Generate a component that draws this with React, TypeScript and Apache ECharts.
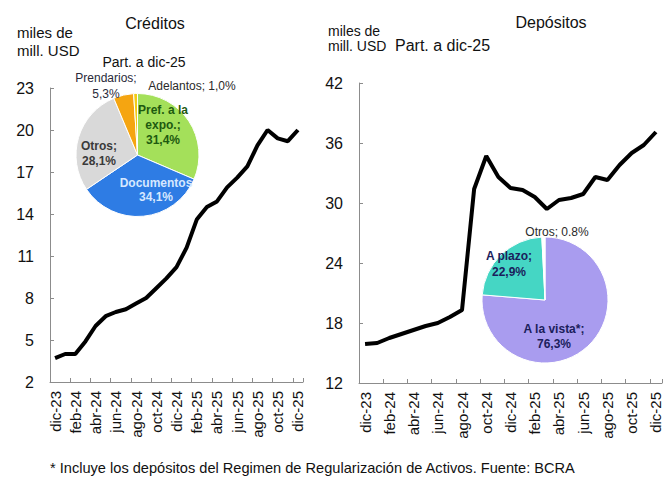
import React, { useEffect, useRef } from 'react';
import * as echarts from 'echarts';

// ---------- data ----------
const months = [
  'dic-23', 'ene-24', 'feb-24', 'mar-24', 'abr-24', 'may-24', 'jun-24', 'jul-24', 'ago-24',
  'sep-24', 'oct-24', 'nov-24', 'dic-24', 'ene-25', 'feb-25', 'mar-25', 'abr-25', 'may-25',
  'jun-25', 'jul-25', 'ago-25', 'sep-25', 'oct-25', 'nov-25', 'dic-25',
];
const creditos = [
  3.7, 4.0, 4.0, 4.9, 6.0, 6.7, 7.0, 7.2, 7.6, 8.0, 8.7, 9.4, 10.2,
  11.6, 13.6, 14.5, 14.9, 15.9, 16.6, 17.4, 18.9, 20.0, 19.4, 19.2, 20.0,
];
const depositos = [
  15.9, 16.0, 16.5, 16.9, 17.3, 17.7, 18.0, 18.6, 19.3, 31.4, 34.7, 32.6, 31.5,
  31.3, 30.6, 29.4, 30.3, 30.5, 30.9, 32.6, 32.3, 33.8, 35.0, 35.8, 37.1,
];
const creditTicks = [2, 5, 8, 11, 14, 17, 20, 23];
const depositTicks = [12, 18, 24, 30, 36, 42];

const creditShareNames = ['Pref. a la expo.', 'Documentos', 'Otros', 'Prendarios', 'Adelantos'];
const creditShares = [31.4, 34.1, 28.1, 5.3, 1.0];
const creditLabelTemplates = ['Pref. a la\nexpo.;\n{c}', 'Documentos\n{c}', 'Otros;\n{c}', 'Prendarios;\n{c}', 'Adelantos; {c}'];

const depositShareNames = ['A la vista*', 'A plazo', 'Otros'];
const depositShares = [76.3, 22.9, 0.8];
const depositLabelTemplates = ['A la vista*;\n{c}', 'A plazo;\n{c}', 'Otros; {d}'];

// ---------- styles ----------
const FONT = '"Liberation Sans", Arial, Helvetica, sans-serif';
const AXIS = '#8c8c8c';
const TEXT = '#111111';
const creditColors = ['#A4E05A', '#2E7CE4', '#D9D9D9', '#F5A511', '#F2CB14'];
const creditLabelStyles = [
  { color: '#1E5A10', fontWeight: 'bold', lineHeight: 15, x: 163, y: 125 },
  { color: '#D6E8FF', fontWeight: 'bold', lineHeight: 14, x: 156, y: 190 },
  { color: '#3A3A3A', fontWeight: 'bold', lineHeight: 15, x: 99, y: 153 },
  { color: '#2a2a3a', fontWeight: 'normal', lineHeight: 16, x: 106, y: 86 },
  { color: '#2a2a2a', fontWeight: 'normal', lineHeight: 14, x: 192, y: 86 },
];
const depositColors = ['#A99CEF', '#45D6C4', '#FFFFFF'];
const depositLabelStyles = [
  { color: '#1B1E5C', fontWeight: 'bold', lineHeight: 15, x: 554, y: 336 },
  { color: '#1B1E5C', fontWeight: 'bold', lineHeight: 16, x: 509, y: 264 },
  { color: '#2a2a2a', fontWeight: 'normal', lineHeight: 14, x: 557, y: 232 },
];

const fmtComma = (v: number) => v.toFixed(1).replace('.', ',') + '%';
const fmtDot = (v: number) => v.toFixed(1) + '%';
const fillTemplate = (t: string, v: number) => t.replace('{c}', fmtComma(v)).replace('{d}', fmtDot(v));

function buildOption(): any {
  const xAxisBase = (gridIndex: number) => ({
    type: 'category',
    gridIndex,
    data: months,
    boundaryGap: true,
    axisLine: { show: true, lineStyle: { color: AXIS, width: 1 } },
    axisTick: { show: true, inside: true, interval: 1, length: 4, lineStyle: { color: AXIS } },
    axisLabel: { interval: 1, rotate: 90, fontSize: 15, color: TEXT, margin: 9, fontFamily: FONT },
    splitLine: { show: false },
  });
  const yAxisBase = (gridIndex: number, min: number, max: number, ticks: number[]) => ({
    type: 'value',
    gridIndex,
    min,
    max,
    axisLine: { show: true, lineStyle: { color: AXIS, width: 1 } },
    axisTick: { show: true, inside: true, length: 4, lineStyle: { color: AXIS }, customValues: ticks },
    axisLabel: { fontSize: 16, color: TEXT, margin: 16, fontFamily: FONT, customValues: ticks },
    splitLine: { show: false },
  });

  const pieSeries = (
    center: number[], radius: number, names: string[], values: number[], colors: string[],
    templates: string[], styles: any[],
  ) => ({
    type: 'pie',
    center,
    radius,
    startAngle: 90,
    clockwise: true,
    silent: true,
    avoidLabelOverlap: false,
    itemStyle: { borderColor: '#ffffff', borderWidth: 1 },
    labelLine: { show: false },
    data: names.map((n, i) => ({
      name: n,
      value: values[i],
      itemStyle: { color: colors[i] },
      label: {
        show: true,
        formatter: fillTemplate(templates[i], values[i]),
        color: styles[i].color,
        fontWeight: styles[i].fontWeight,
        lineHeight: styles[i].lineHeight,
        fontSize: 12,
        fontFamily: FONT,
        align: 'center',
      },
    })),
    labelLayout: (p: any) => ({
      x: styles[p.dataIndex].x,
      y: styles[p.dataIndex].y,
      align: 'center',
      verticalAlign: 'middle',
    }),
    z: 5,
  });

  const txt = (text: string, x: number, y: number, fontSize: number, align: string, lineHeight?: number) => ({
    type: 'text',
    x,
    y,
    style: {
      text,
      fontSize,
      fontFamily: FONT,
      fill: TEXT,
      align,
      verticalAlign: 'middle',
      lineHeight: lineHeight || fontSize + 2,
    },
    z: 10,
  });

  return {
    animation: false,
    backgroundColor: '#ffffff',
    grid: [
      { left: 50, top: 88, width: 253, height: 294 },
      { left: 359, top: 83, width: 303, height: 300 },
    ],
    xAxis: [xAxisBase(0), xAxisBase(1)],
    yAxis: [yAxisBase(0, 2, 23, creditTicks), yAxisBase(1, 12, 42, depositTicks)],
    series: [
      {
        type: 'line',
        xAxisIndex: 0,
        yAxisIndex: 0,
        data: creditos,
        symbol: 'none',
        lineStyle: { color: '#000000', width: 4 },
        z: 3,
      },
      {
        type: 'line',
        xAxisIndex: 1,
        yAxisIndex: 1,
        data: depositos,
        symbol: 'none',
        lineStyle: { color: '#000000', width: 4 },
        z: 3,
      },
      pieSeries([137.5, 155], 61.5, creditShareNames, creditShares, creditColors, creditLabelTemplates, creditLabelStyles),
      pieSeries([545, 300], 63, depositShareNames, depositShares, depositColors, depositLabelTemplates, depositLabelStyles),
    ],
    graphic: [
      txt('Créditos', 155, 23, 16, 'center'),
      txt('miles de\nmill. USD', 17, 41, 15, 'left', 18),
      txt('Part. a dic-25', 144, 62, 14, 'center'),
      txt('Depósitos', 551, 22, 16, 'center'),
      txt('miles de\nmill. USD', 328, 38, 14, 'left', 15),
      txt('Part. a dic-25', 395, 45, 16, 'left'),
      txt('* Incluye los depósitos del Regimen de Regularización de Activos. Fuente: BCRA', 50, 468, 14.6, 'left'),
    ],
  };
}

export default function App() {
  const ref = useRef<HTMLDivElement>(null);
  useEffect(() => {
    if (!ref.current) return;
    const chart = echarts.init(ref.current, undefined, { renderer: 'svg' });
    chart.setOption(buildOption());
    return () => chart.dispose();
  }, []);
  return (
    <div
      ref={ref}
      style={{ position: 'fixed', left: 0, top: 0, width: 667, height: 480, background: '#fff' }}
    />
  );
}
